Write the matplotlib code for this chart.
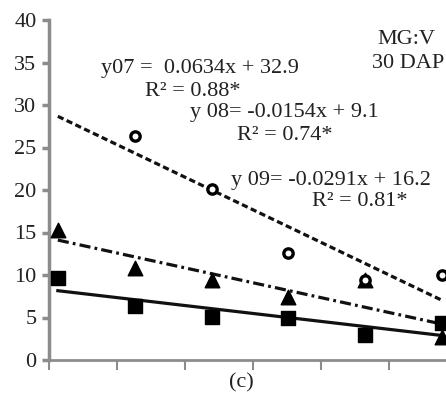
import numpy as np
import matplotlib
matplotlib.use("Agg")
import matplotlib.pyplot as plt

plt.rcParams['lines.scale_dashes'] = False

# Data
x_pos = [0.13, 1.26, 2.39, 3.52, 4.65, 5.78]
circles_x = [1.26, 2.39, 3.52, 4.65, 5.78]
circles_y = [26.3, 20.1, 12.6, 9.4, 10.0]        # y07
triangles_y = [15.3, 10.8, 9.4, 7.4, 9.4, 2.7]   # y09
squares_y = [9.6, 6.3, 5.1, 4.9, 2.9, 4.3]       # y08
y_ticks = [0, 5, 10, 15, 20, 25, 30, 35, 40]
x_ticks = [0, 1, 2, 3, 4, 5]

W, H = 446, 399
fig = plt.figure(figsize=(W / 100, H / 100), dpi=100)
ax = fig.add_axes([49 / W, 1 - 360 / H, 1 - 49 / W, (360 - 20) / H])
ax.set_xlim(0, (W - 49) / 68)
ax.set_ylim(0, 40)

serif = ['Liberation Serif', 'DejaVu Serif']
tc = '#222222'
fs = 16

xs = np.array([x_pos[0], x_pos[-1]])
# trendlines
p = np.polyfit(circles_x, circles_y, 1)
ax.plot(xs, np.polyval(p, xs), color='#111111', lw=2.3, ls=(0, (4.5, 2.5)), zorder=2)
p = np.polyfit(x_pos, triangles_y, 1)
ax.plot(xs, np.polyval(p, xs), color='#111111', lw=2.3, ls=(0, (8, 3, 2, 3)), zorder=2)
p = np.polyfit(x_pos, squares_y, 1)
ax.plot(xs, np.polyval(p, xs), color='#111111', lw=2.3, ls='-', zorder=2)

ax.scatter(x_pos, squares_y, marker='s', s=95, color='black', zorder=3, clip_on=False)
ax.scatter(x_pos, triangles_y, marker='^', s=110, color='black', zorder=3, clip_on=False)
ax.scatter(circles_x, circles_y, marker='o', s=45, facecolor='white', edgecolor='black',
           linewidths=2.4, zorder=4, clip_on=False)

ax.set_yticks(y_ticks)
ax.set_yticklabels([str(v) for v in y_ticks], fontfamily=serif, fontsize=fs, color=tc)
ax.set_xticks(x_ticks)
ax.set_xticklabels([])
for s in ['top', 'right']:
    ax.spines[s].set_visible(False)
ax.spines['left'].set_color('#8c8c8c')
ax.spines['left'].set_linewidth(2.5)
ax.spines['bottom'].set_color('#8c8c8c')
ax.spines['bottom'].set_linewidth(2)
ax.tick_params(axis='y', direction='out', length=5, width=2.5, color='#8c8c8c', pad=4)
ax.tick_params(axis='x', direction='out', length=7, width=1.5, color='#8c8c8c')

def t(px, py, s, ha='left'):
    fig.text(px / W, 1 - py / H, s, ha=ha, va='center', fontsize=fs,
             fontfamily=serif, color=tc)

t(101, 68, 'y07 =  0.0634x + 32.9')
t(145, 92, 'R² = 0.88*')
t(190, 113, 'y 08= -0.0154x + 9.1')
t(237, 136, 'R² = 0.74*')
t(231, 180, 'y 09= -0.0291x + 16.2')
t(312, 202, 'R² = 0.81*')
t(406, 40, 'MG:V', ha='center')
t(408, 63, '30 DAP', ha='center')
t(241, 383, '(c)', ha='center')

fig.savefig('out.png', dpi=100)
